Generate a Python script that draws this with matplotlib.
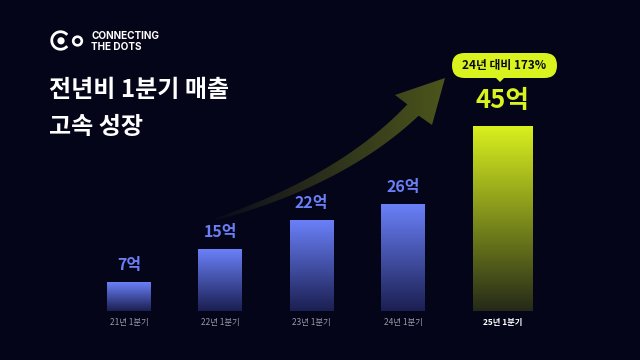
import numpy as np
import matplotlib
matplotlib.use("Agg")
import matplotlib.pyplot as plt
from matplotlib.patches import FancyBboxPatch, Polygon, Circle, Arc, PathPatch
from matplotlib.path import Path
from matplotlib.colors import to_rgb

plt.rcParams['font.family'] = ['Noto Sans CJK KR', 'DejaVu Sans']

# ---- data ----
categories = ["21년 1분기", "22년 1분기", "23년 1분기", "24년 1분기", "25년 1분기"]
values = [7, 15, 22, 26, 45]
value_labels = ["7억", "15억", "22억", "26억", "45억"]
title_lines = ["전년비 1분기 매출", "고속 성장"]
badge_text = "24년 대비 173%"

# ---- style ----
BG = "#05051a"
BLUE = "#6a7ff5"
YELLOW = "#d8f31e"
GRAY = "#9a9aa6"

fig = plt.figure(figsize=(6.4, 3.6), dpi=100, facecolor=BG)

# bar axes
ax = fig.add_axes([0.130, 0.137, 0.728, 0.683])
ax.set_facecolor("none")
ax.axis("off")

positions = np.arange(len(values)) + np.array([0, 0, 0, 0, 0.09])
widths = [0.48, 0.48, 0.48, 0.48, 0.656]

def grad(c_bottom, c_top, n=128):
    b = np.array(to_rgb(c_bottom)); t = np.array(to_rgb(c_top))
    s = np.linspace(0, 1, n)[:, None]
    return (b + (t - b) * s)[:, None, :]

for i, (x, v, w) in enumerate(zip(positions, values, widths)):
    hl = i == len(values) - 1
    g = grad("#252a18", "#d8f01e") if hl else grad("#1b1f52", "#6a80f8")
    ax.imshow(g, extent=(x - w / 2, x + w / 2, 0, v), origin="lower",
              aspect="auto", zorder=2, interpolation="bilinear")
    ax.annotate(value_labels[i], (x, v), xytext=(0, 18.7 if hl else 12.3),
                textcoords="offset points", ha="center", va="center",
                fontsize=18.5 if hl else 11.5, fontweight="bold",
                color=YELLOW if hl else BLUE, annotation_clip=False)
    ax.text(x, -3.0, categories[i], ha="center", va="center",
            fontsize=6, fontweight="bold" if hl else "normal",
            color="white" if hl else GRAY, clip_on=False)

ax.set_xlim(-0.5, 4.6)
ax.set_ylim(0, 60)

# overlay axes in pixel coords for decoration
ax2 = fig.add_axes([0, 0, 1, 1])
ax2.set_facecolor("none")
ax2.axis("off")

# logo
ax2.add_patch(Arc((60.5, 40.5), 17.5, 17.5, theta1=40, theta2=320, lw=2.0, color="white"))
ax2.add_patch(Circle((61, 40.8), 2.9, color="white"))
ax2.add_patch(Circle((77.5, 41), 4.3, fill=False, lw=1.9, color="white"))
ax2.text(91, 36, "CONNECTING", family=["Inter", "DejaVu Sans"], fontweight="bold",
         fontsize=7.2, color="white", va="center", ha="left")
ax2.text(91, 47.5, "THE DOTS", family=["Inter", "DejaVu Sans"], fontweight="bold",
         fontsize=7.2, color="white", va="center", ha="left")

# title
ax2.text(49, 90, title_lines[0], fontsize=17.3, fontweight="bold", color="white",
         va="center", ha="left")
ax2.text(49, 127, title_lines[1], fontsize=17.3, fontweight="bold", color="white",
         va="center", ha="left")

# arrow (curved, gradient)
P0 = np.array([213.0, 220.0]); C = np.array([342.0, 181.0]); P2 = np.array([413.0, 110.0])
t = np.linspace(0, 1, 80)[:, None]
pts = (1 - t) ** 2 * P0 + 2 * (1 - t) * t * C + t ** 2 * P2
tan = 2 * (1 - t) * (C - P0) + 2 * t * (P2 - C)
tan = tan / np.linalg.norm(tan, axis=1, keepdims=True)
nrm = np.column_stack([tan[:, 1], -tan[:, 0]])
half = (0.8 + 7.2 * t[:, 0] ** 0.8)[:, None]
upper = pts + nrm * half
lower = pts - nrm * half
head = [np.array([395.0, 95.0]), np.array([445.0, 78.0]), np.array([432.0, 125.0])]
outline = np.vstack([upper, head, lower[::-1]])
clip = PathPatch(Path(outline, closed=True), transform=ax2.transData, facecolor="none", edgecolor="none")
ax2.add_patch(clip)
ramp = np.linspace(0, 1, 256) ** 0.9
img = np.zeros((1, 256, 4))
img[..., :3] = to_rgb(YELLOW)
img[..., 3] = 0.34 * ramp
im = ax2.imshow(img, extent=(205, 446, 230, 70), aspect="auto", interpolation="bilinear", zorder=1)
im.set_clip_path(clip)

# badge
ax2.add_patch(FancyBboxPatch((452, 53), 105, 25, boxstyle="round,pad=0,rounding_size=12.5",
                             facecolor=YELLOW, edgecolor="none", zorder=3))
ax2.add_patch(Polygon([(495, 77), (505, 77), (500, 82)], closed=True, facecolor=YELLOW,
                      edgecolor="none", zorder=3))
ax2.text(504.5, 65.5, badge_text, fontsize=8.5, fontweight="bold", color="#0a0a14",
         ha="center", va="center", zorder=4)

ax2.set_xlim(0, 640)
ax2.set_ylim(360, 0)

fig.savefig("out.png", dpi=100, facecolor=BG)
